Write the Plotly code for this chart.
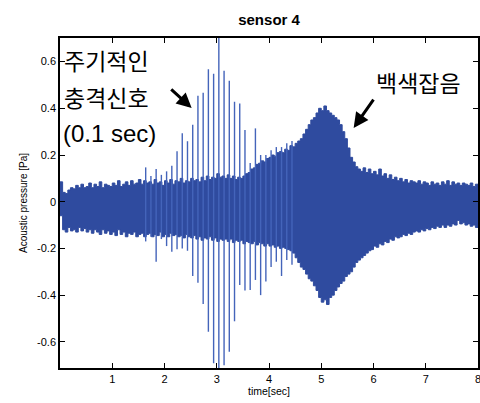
import numpy as np
import plotly.graph_objects as go

# time grid of the noise envelope (sec)
env_t = [round(i * 0.05, 2) for i in range(161)]

# upper edge of the noise body [Pa]
env_upper = [
    0.085, 0.04, 0.035, 0.05, 0.06, 0.055, 0.07, 0.06, 0.075, 0.06,
    0.065, 0.08, 0.06, 0.075, 0.065, 0.085, 0.06, 0.075, 0.07, 0.065,
    0.08, 0.07, 0.09, 0.065, 0.075, 0.085, 0.07, 0.09, 0.075, 0.08,
    0.095, 0.075, 0.09, 0.08, 0.085, 0.075, 0.095, 0.08, 0.085, 0.07,
    0.09, 0.08, 0.095, 0.075, 0.09, 0.085, 0.1, 0.08, 0.09, 0.085,
    0.1, 0.09, 0.095, 0.085, 0.105, 0.09, 0.11, 0.095, 0.105, 0.1,
    0.12, 0.105, 0.11, 0.1, 0.115, 0.1, 0.11, 0.095, 0.105, 0.1,
    0.11, 0.12, 0.125, 0.14, 0.145, 0.16, 0.165, 0.175, 0.17, 0.185,
    0.19, 0.2, 0.195, 0.21, 0.215, 0.21, 0.225, 0.22, 0.24, 0.235,
    0.25, 0.26, 0.27, 0.29, 0.31, 0.33, 0.35, 0.36, 0.38, 0.4,
    0.39, 0.41, 0.39, 0.38, 0.37, 0.36, 0.35, 0.33, 0.3, 0.27,
    0.23, 0.19, 0.17, 0.15, 0.14, 0.13, 0.145, 0.125, 0.14, 0.12,
    0.13, 0.115, 0.14, 0.11, 0.12, 0.1, 0.115, 0.095, 0.105, 0.09,
    0.1, 0.085, 0.095, 0.08, 0.09, 0.085, 0.08, 0.09, 0.075, 0.085,
    0.08, 0.07, 0.085, 0.075, 0.08, 0.07, 0.085, 0.075, 0.09, 0.07,
    0.085, 0.075, 0.08, 0.07, 0.08, 0.075, 0.07, 0.08, 0.065, 0.075,
    0.065,
]

# lower edge of the noise body [Pa]
env_lower = [
    -0.06, -0.12, -0.13, -0.11, -0.125, -0.12, -0.13, -0.11, -0.125, -0.115,
    -0.13, -0.12, -0.135, -0.12, -0.13, -0.14, -0.12, -0.135, -0.125, -0.14,
    -0.13, -0.145, -0.12, -0.14, -0.13, -0.15, -0.135, -0.14, -0.13, -0.15,
    -0.14, -0.135, -0.15, -0.14, -0.135, -0.15, -0.14, -0.145, -0.13, -0.15,
    -0.14, -0.15, -0.135, -0.145, -0.14, -0.15, -0.145, -0.155, -0.14, -0.15,
    -0.155, -0.145, -0.16, -0.15, -0.165, -0.155, -0.16, -0.15, -0.165, -0.155,
    -0.17, -0.16, -0.165, -0.16, -0.17, -0.16, -0.175, -0.165, -0.17, -0.165,
    -0.18, -0.17, -0.175, -0.18, -0.17, -0.185, -0.175, -0.18, -0.19, -0.18,
    -0.19, -0.185, -0.195, -0.19, -0.2, -0.195, -0.2, -0.205, -0.21, -0.22,
    -0.24, -0.26, -0.28, -0.29, -0.31, -0.33, -0.34, -0.36, -0.38, -0.41,
    -0.43, -0.42, -0.44, -0.41, -0.4, -0.38, -0.365, -0.35, -0.34, -0.32,
    -0.31, -0.3, -0.28, -0.26, -0.25, -0.24, -0.23, -0.22, -0.21, -0.205,
    -0.19, -0.195, -0.18, -0.185, -0.17, -0.175, -0.16, -0.165, -0.15, -0.155,
    -0.15, -0.14, -0.145, -0.135, -0.14, -0.13, -0.125, -0.13, -0.12, -0.125,
    -0.115, -0.12, -0.11, -0.115, -0.105, -0.11, -0.1, -0.11, -0.1, -0.105,
    -0.095, -0.1, -0.08, -0.095, -0.09, -0.1, -0.095, -0.105, -0.1, -0.11,
    -0.1,
]

# periodic impulses (every 0.1 sec)
spike_t = [1.64, 1.74, 1.84, 1.94, 2.04, 2.14, 2.24, 2.34, 2.44, 2.54,
           2.64, 2.74, 2.84, 2.94, 3.04, 3.14, 3.24, 3.34, 3.44, 3.54,
           3.64, 3.74, 3.84, 3.94, 4.04, 4.14, 4.24, 4.34, 4.44]
spike_top = [0.147, 0.11, 0.14, 0.115, 0.13, 0.154, 0.216, 0.293, 0.259, 0.33,
             0.454, 0.467, 0.567, 0.548, 0.75, 0.561, 0.518, 0.428, 0.421, 0.307,
             0.166, 0.314, 0.2, 0.2, 0.22, 0.234, 0.234, 0.25, 0.26]
spike_bottom = [-0.17, -0.15, -0.257, -0.16, -0.19, -0.214, -0.204, -0.2, -0.21, -0.318,
                -0.347, -0.438, -0.557, -0.692, -0.75, -0.70, -0.642, -0.512, -0.357, -0.38,
                -0.378, -0.335, -0.40, -0.342, -0.28, -0.257, -0.318, -0.25, -0.27]

x_ticks = [1, 2, 3, 4, 5, 6, 7, 8]
y_ticks = [-0.6, -0.4, -0.2, 0, 0.2, 0.4, 0.6]
y_ticktext = ["-0.6", "-0.4", "-0.2", "0", "0.2", "0.4", "0.6"]

BODY = "#2f4b9f"
SPIKE = "#4464ba"

fig = go.Figure()
fig.add_trace(go.Scatter(x=env_t, y=env_lower, mode="lines", line=dict(color=BODY, width=1, shape="hv"),
                         hoverinfo="skip", showlegend=False))
fig.add_trace(go.Scatter(x=env_t, y=env_upper, mode="lines", line=dict(color=BODY, width=1, shape="hv"),
                         fill="tonexty", fillcolor=BODY, hoverinfo="skip", showlegend=False))

sx, sy = [], []
for t, a, b in zip(spike_t, spike_top, spike_bottom):
    sx += [t, t, None]
    sy += [b, a, None]
fig.add_trace(go.Scatter(x=sx, y=sy, mode="lines", line=dict(color=SPIKE, width=1.4),
                         hoverinfo="skip", showlegend=False))

KFONT = "Noto Sans CJK KR"
ann = [
    dict(x=0.03, y=0.607, text="주기적인", xanchor="left", yanchor="middle", font=dict(family=KFONT, size=23, color="black")),
    dict(x=0.03, y=0.448, text="충격신호", xanchor="left", yanchor="middle", font=dict(family=KFONT, size=23, color="black")),
    dict(x=0.02, y=0.294, text="(0.1 sec)", xanchor="left", yanchor="middle", font=dict(family="Liberation Sans", size=24, color="black")),
    dict(x=6.87, y=0.513, text="백색잡음", xanchor="center", yanchor="middle", font=dict(family=KFONT, size=23, color="black")),
]
for a in ann:
    fig.add_annotation(xref="x", yref="y", showarrow=False, **a)

for (hx, hy, tx, ty) in [(2.52, 0.401, 2.10, 0.487), (5.62, 0.316, 6.02, 0.444)]:
    fig.add_annotation(x=hx, y=hy, ax=tx, ay=ty, xref="x", yref="y", axref="x", ayref="y",
                       text="", showarrow=True, arrowhead=2, arrowsize=1, arrowwidth=3,
                       arrowcolor="black")

fig.update_layout(
    width=480, height=403,
    margin=dict(l=60, r=2, t=38, b=35),
    paper_bgcolor="white", plot_bgcolor="white",
    title=dict(text="<b>sensor 4</b>", x=0.5605, xanchor="center", y=0.95, yanchor="middle",
               font=dict(family="Liberation Sans", size=15, color="black")),
    font=dict(family="Liberation Sans", size=11, color="black"),
    xaxis=dict(range=[0, 8], tickvals=x_ticks, ticks="inside", ticklen=5, tickwidth=1.2,
               tickcolor="black", showline=True, linecolor="black", linewidth=1.5,
               mirror="ticks", showgrid=False, zeroline=False, automargin=False,
               ticklabeloverflow="allow",
               title=dict(text="time[sec]", font=dict(size=10.5), standoff=4)),
    yaxis=dict(range=[-0.712, 0.701], tickvals=y_ticks, ticktext=y_ticktext, ticks="inside",
               ticklen=5, tickwidth=1.2, tickcolor="black", showline=True, linecolor="black",
               linewidth=1.5, mirror="ticks", showgrid=False, zeroline=False, automargin=False,
               title=dict(text="Acoustic pressure [Pa]", font=dict(size=10), standoff=8)),
)

fig.write_html("out.html", config={"displayModeBar": False},
               post_script="document.body.style.margin='0';document.body.style.overflow='hidden';")
